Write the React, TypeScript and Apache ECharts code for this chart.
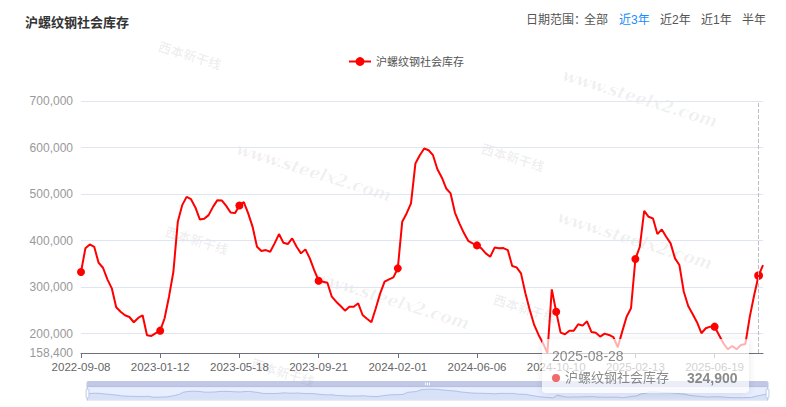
import React, { useEffect, useRef } from 'react';
import * as echarts from 'echarts';

// ---------- data ----------
const TITLE = '沪螺纹钢社会库存';
const SERIES_NAME = '沪螺纹钢社会库存';
const RANGE_LABEL = '日期范围：';
const RANGE_OPTIONS = ['全部', '近3年', '近2年', '近1年', '半年'];
const ACTIVE_RANGE = '近3年';
const WATERMARK_URL = 'www.steelx2.com';
const WATERMARK_BRAND = '西本新干线';

const START_DATE = '2022-09-08';
const END_DATE = '2025-09-04';
const SKIPPED_DATES = ['2023-10-05'];
const HOVER_DATE = '2025-08-28';

const Y_MIN = 158400;
const Y_MAX = 700000;

const inventory = [
  332400, 383300, 391800, 386700, 352400, 341600, 316700, 297400, 256700, 247200,
  239500, 235800, 224500, 233700, 239500, 196600, 195100, 200900, 206400, 233000,
  279400, 333000, 440300, 476200, 494000, 489000, 471200, 445500, 446800, 454700,
  472500, 486900, 486200, 474700, 460500, 459000, 475500, 482600, 458400, 429600,
  386700, 377500, 379600, 376000, 394000, 414000, 395300, 392500, 404700, 386700,
  372500, 381100, 361800, 336700, 313700, 311600, 309400, 279400, 268700, 259400,
  249400, 257900, 257900, 265200, 240100, 232200, 224500, 254500, 286700, 311600,
  316700, 321000, 340300, 440300, 458400, 479800, 565600, 583500, 597800, 594200,
  583500, 553400, 535600, 512000, 501300, 459700, 436900, 416700, 399600, 394000,
  389700, 383300, 372500, 365200, 385000, 383300, 383900, 379600, 345300, 342500,
  329600, 286700, 250900, 218700, 197200, 179400, 158400, 295200, 247200, 202100,
  198700, 206400, 206400, 220200, 217200, 226600, 203600, 202100, 193600, 200000,
  197200, 192300, 170800, 204300, 236500, 254500, 360300, 386700, 464000, 451100,
  447600, 414000, 424000, 408200, 394000, 361800, 347400, 290100, 259400, 242300,
  224500, 200900, 211600, 215000, 215000, 197200, 179400, 166500, 173600, 166500,
  175800, 177900, 236500, 283000, 324900, 347400,
];

function weeklyDates(start: string, end: string, skip: string[]): string[] {
  const toUTC = (s: string) => {
    const [y, m, d] = s.split('-').map(Number);
    return Date.UTC(y, m - 1, d);
  };
  const pad = (n: number) => (n < 10 ? '0' + n : '' + n);
  const out: string[] = [];
  for (let t = toUTC(start); t <= toUTC(end); t += 7 * 86400000) {
    const dt = new Date(t);
    const s = `${dt.getUTCFullYear()}-${pad(dt.getUTCMonth() + 1)}-${pad(dt.getUTCDate())}`;
    if (!skip.includes(s)) out.push(s);
  }
  return out;
}

const dates = weeklyDates(START_DATE, END_DATE, SKIPPED_DATES);

// ---------- layout / style ----------
const FONT = "Arial, 'Liberation Sans', 'Noto Sans CJK SC', sans-serif";
const LINE_COLOR = '#ff0000';
const RANGE_X = [584, 619, 660, 701, 742];
const URL_MARKS = [
  [314, 172],
  [392, 300],
  [640, 98],
  [635, 240],
];
const BRAND_MARKS = [
  [197, 240],
  [513, 157],
  [525, 308],
  [283, 372],
  [190, 55],
];

const fmt = (v: number) => v.toLocaleString('en-US');

export default function App() {
  const ref = useRef<HTMLDivElement>(null);

  useEffect(() => {
    if (!ref.current) return;
    const chart = echarts.init(ref.current, undefined, { renderer: 'svg' });

    const graphics: any[] = [];
    URL_MARKS.forEach(([x, y]) => {
      graphics.push({
        type: 'text',
        x,
        y,
        rotation: -0.3,
        z: 0,
        silent: true,
        style: {
          text: WATERMARK_URL,
          x: 0,
          y: 0,
          align: 'center',
          verticalAlign: 'middle',
          font: "italic bold 17px 'DejaVu Serif', serif",
          fill: 'rgba(0,0,0,0.06)',
        },
      });
    });
    BRAND_MARKS.forEach(([x, y]) => {
      graphics.push({
        type: 'text',
        x,
        y,
        rotation: -0.3,
        z: 0,
        silent: true,
        style: {
          text: WATERMARK_BRAND,
          x: 0,
          y: 0,
          align: 'center',
          verticalAlign: 'middle',
          font: "bold 13px 'Noto Sans CJK SC', sans-serif",
          fill: 'rgba(0,0,0,0.07)',
        },
      });
    });
    graphics.push({
      type: 'text',
      x: 526,
      y: 20,
      silent: true,
      style: {
        text: RANGE_LABEL,
        verticalAlign: 'middle',
        font: `12px ${FONT}`,
        fill: '#555',
      },
    });
    RANGE_OPTIONS.forEach((t, i) => {
      graphics.push({
        type: 'text',
        x: RANGE_X[i],
        y: 20,
        silent: true,
        style: {
          text: t,
          verticalAlign: 'middle',
          font: `12px ${FONT}`,
          fill: t === ACTIVE_RANGE ? '#1a8cff' : '#555',
        },
      });
    });

    chart.setOption({
      animation: false,
      textStyle: { fontFamily: FONT },
      title: {
        text: TITLE,
        left: 20,
        top: 11,
        textStyle: { fontSize: 13, fontWeight: 'bold', color: '#333', fontFamily: FONT },
      },
      legend: {
        data: [SERIES_NAME],
        left: 343,
        top: 51,
        itemWidth: 22,
        itemHeight: 11,
        itemGap: 5,
        textStyle: { fontSize: 11, color: '#555' },
      },
      grid: { left: 81, right: 23, top: 101, bottom: 54, containLabel: false },
      tooltip: {
        trigger: 'axis',
        position: [542, 339],
        transitionDuration: 0,
        padding: [10, 11, 8, 10],
        borderWidth: 0,
        backgroundColor: 'rgba(255,255,255,0.82)',
        extraCssText: 'box-shadow: 0 1px 8px rgba(0,0,0,0.12); border-radius: 4px; opacity: 0.85;',
        axisPointer: { type: 'line', lineStyle: { color: '#B9BEC9', type: 'dashed', width: 1 } },
        formatter: (params: any) => {
          const p = Array.isArray(params) ? params[0] : params;
          return (
            `<div style="font-family:${FONT.replace(/"/g, '')};font-size:14px;color:#777;line-height:14px">${p.axisValue}</div>` +
            `<div style="margin-top:8px;line-height:14px;display:flex;align-items:center;white-space:nowrap;font-family:${FONT.replace(/"/g, '')}">` +
            `<span style="display:inline-block;width:8px;height:8px;border-radius:50%;background:#f05050;margin-right:5px"></span>` +
            `<span style="font-size:13px;color:#777">${p.seriesName}</span>` +
            `<span style="margin-left:18px;font-size:14px;font-weight:bold;color:#777">${fmt(p.value)}</span>` +
            `</div>`
          );
        },
      },
      xAxis: {
        type: 'category',
        data: dates,
        boundaryGap: false,
        axisLine: { lineStyle: { color: '#6E7079' } },
        axisTick: { interval: 17, lineStyle: { color: '#6E7079' } },
        axisLabel: { interval: 17, color: '#666', fontSize: 11.5, margin: 8 },
      },
      yAxis: {
        type: 'value',
        min: Y_MIN,
        max: Y_MAX,
        axisLine: { show: false },
        axisTick: { show: false },
        axisLabel: { color: '#999', fontSize: 12, margin: 8 },
        splitLine: { lineStyle: { color: '#E0E6F1' } },
      },
      dataZoom: [
        {
          type: 'slider',
          start: 0,
          end: 100,
          left: 84,
          right: 20,
          bottom: 12,
          height: 14,
          moveHandleSize: 6,
          showDetail: false,
        },
      ],
      graphic: graphics,
      series: [
        {
          name: SERIES_NAME,
          type: 'line',
          data: inventory,
          symbol: 'circle',
          symbolSize: 8,
          z: 3,
          lineStyle: { color: LINE_COLOR, width: 2 },
          itemStyle: { color: LINE_COLOR },
        },
      ],
    });

    const hoverIndex = dates.indexOf(HOVER_DATE);
    if (hoverIndex >= 0) {
      chart.dispatchAction({ type: 'showTip', seriesIndex: 0, dataIndex: hoverIndex });
    }

    return () => chart.dispose();
  }, []);

  return (
    <div
      ref={ref}
      style={{ position: 'absolute', left: 0, top: 0, width: 786, height: 407, background: '#fff' }}
    />
  );
}
